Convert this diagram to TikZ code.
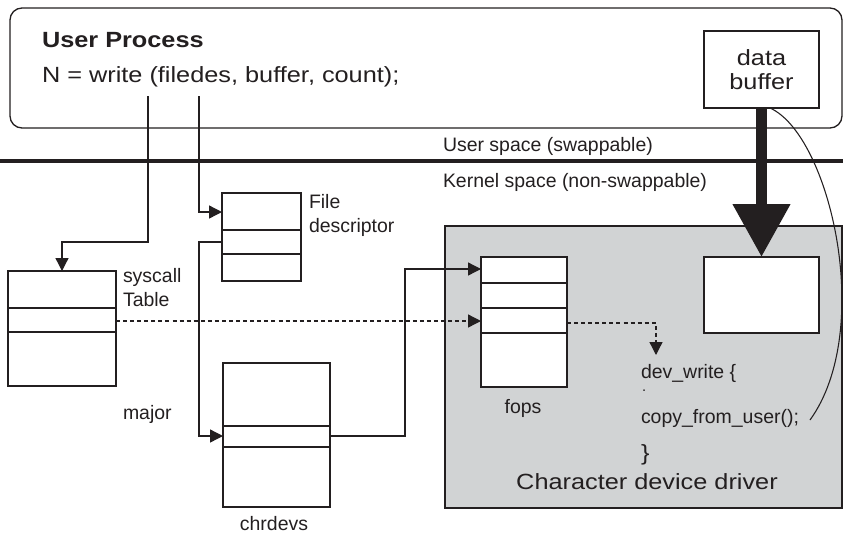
\documentclass[tikz,border=0pt]{standalone}
\usepackage{fontspec}
\setmainfont{Liberation Sans}
\newfontfamily\widefont[FakeStretch=1.15]{Liberation Sans}
\usetikzlibrary{arrows.meta}
\definecolor{ink}{HTML}{231F20}
\definecolor{drvgray}{HTML}{D1D3D4}
\tikzset{
  tbl/.style={draw=ink, line width=1pt, fill=white, inner sep=0pt, outer sep=0pt, anchor=north west},
  rowline/.style={draw=ink, line width=1pt},
  lbl/.style={inner sep=0pt, outer sep=0pt, anchor=base west, text=ink, font=\fontsize{14.6}{17.5}\selectfont},
  biglbl/.style={inner sep=0pt, outer sep=0pt, anchor=base west, text=ink, font=\widefont\fontsize{16.5}{18}\selectfont},
  link/.style={draw=ink, line width=1pt, -{Triangle[length=9.75pt,width=9.75pt]}},
}
\begin{document}
\begin{tikzpicture}[x=0.75pt,y=-0.75pt]
\useasboundingbox (0,0) rectangle (843,533);

% character device driver region
\node[draw=ink, line width=1pt, fill=drvgray, inner sep=0pt, outer sep=0pt, anchor=north west,
      minimum width=297.75pt, minimum height=211.5pt] (drv) at (445,226) {};

% user process
\node[draw=ink, line width=1pt, fill=white, rounded corners=9pt, inner sep=0pt, outer sep=0pt,
      anchor=north west, minimum width=624pt, minimum height=90pt] (proc) at (10,8) {};
\node[biglbl, font=\widefont\bfseries\fontsize{16.5}{18}\selectfont] (ptitle) at (42,47) {User Process};
\node[biglbl] (pcall) at (42,82) {N = write (filedes, buffer, count);};

% user / kernel boundary
\draw[ink, line width=2.6pt] (0,161) -- (843,161);
\node[lbl] (uspace) at (443,151) {User space (swappable)};
\node[lbl] (kspace) at (443,187) {Kernel space (non-swappable)};

% buffers
\node[tbl, minimum width=86.25pt, minimum height=57.75pt, align=center,
      font=\widefont\fontsize{16.5}{18}\selectfont, text=ink] (ubuf) at (704,31) {data\\buffer};
\node[tbl, minimum width=86.25pt, minimum height=57pt] (kbuf) at (704,257) {};

% tables
\node[tbl, minimum width=81pt, minimum height=86.25pt] (sys) at (8,271) {};
\foreach \r in {308,332} \draw[rowline] (sys.west |- 0,\r) -- (sys.east |- 0,\r);
\node[lbl] (sysl1) at (123,282) {syscall};
\node[lbl] (sysl2) at (123,306) {Table};

\node[tbl, minimum width=59.25pt, minimum height=66pt] (fd) at (222,193) {};
\foreach \r in {230,254} \draw[rowline] (fd.west |- 0,\r) -- (fd.east |- 0,\r);
\node[lbl] (fdl1) at (309,208) {File};
\node[lbl] (fdl2) at (309,232) {descriptor};

\node[tbl, minimum width=80.25pt, minimum height=108pt] (chr) at (223,363) {};
\foreach \r in {426,447} \draw[rowline] (chr.west |- 0,\r) -- (chr.east |- 0,\r);
\node[lbl, anchor=base] (chrl) at (274,530) {chrdevs};
\node[lbl] (major) at (123,419) {major};

\node[tbl, minimum width=64.5pt, minimum height=97.5pt] (fops) at (481,257) {};
\foreach \r in {283,308,333} \draw[rowline] (fops.west |- 0,\r) -- (fops.east |- 0,\r);
\node[lbl, anchor=base] (fopsl) at (523,413) {fops};

% driver code
\node[lbl] (dw) at (641,378) {dev\_write \{};
\node[lbl, font=\fontsize{11}{13}\selectfont] (dots) at (642,391) {.};
\node[lbl] (cu) at (641,423) {copy\_from\_user();};
\node[biglbl] (cb) at (641,460) {\}};
\node[biglbl, anchor=base] (drvl) at (647,489) {Character device driver};

% connectors
\coordinate (w1) at (148,96);
\coordinate (w2) at (199,96);
\coordinate (dwtip) at (656,355);
\coordinate (cuend) at (810,420);

\draw[link] (w1) -- (148,242) -- (62,242) -- (62,0 |- sys.north);
\draw[link] (w2) |- (fd.west |- 0,212);
\draw[link] (fd.west |- 0,242) -- (199,242) -- (199,436) -- (chr.west |- 0,436);
\draw[link] (chr.east |- 0,436) -- (405,436) -- (405,269) -- (fops.west |- 0,269);
\draw[link, dash pattern=on 3pt off 2.3pt] (sys.east |- 0,321) -- (fops.west |- 0,321);
\draw[link, dash pattern=on 3pt off 2.3pt] (fops.east |- 0,323) -| (dwtip);

% copy into kernel buffer
\draw[ink, line width=8.25pt, -{Triangle[length=39.75pt,width=41.25pt]}] (ubuf.south) -- (kbuf.north);
\draw[ink, line width=0.8pt] (ubuf.south -| 770,0) .. controls (830,135) and (875,330) .. (cuend);
\end{tikzpicture}
\end{document}
